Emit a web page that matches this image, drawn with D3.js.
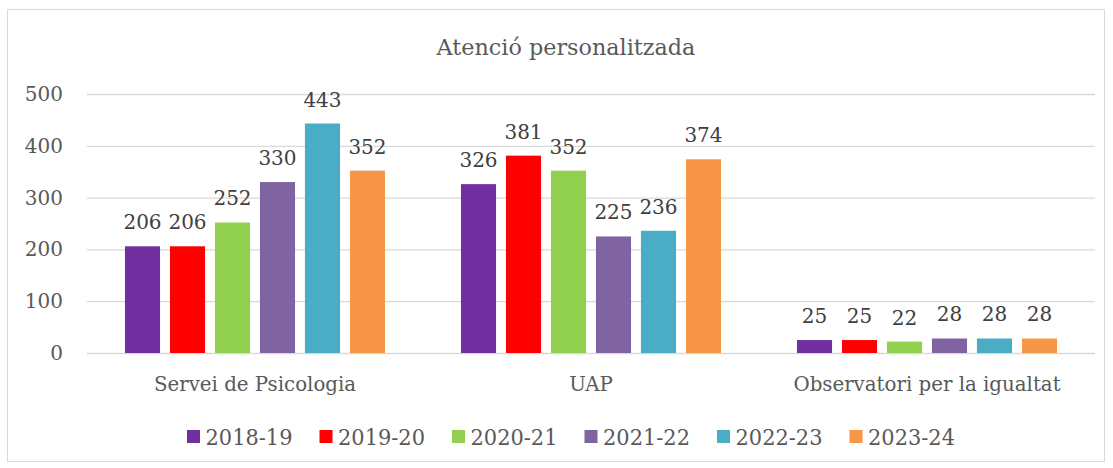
<!DOCTYPE html>
<html><head><meta charset="utf-8">
<script src="https://cdn.jsdelivr.net/npm/d3@7"></script>
<style>body{margin:0;background:#fff}</style>
</head><body>
<script>
const categories = ["Servei de Psicologia", "UAP", "Observatori per la igualtat"];
const seriesNames = ["2018-19", "2019-20", "2020-21", "2021-22", "2022-23", "2023-24"];
const s2018 = [206, 326, 25];
const s2019 = [206, 381, 25];
const s2020 = [252, 352, 22];
const s2021 = [330, 225, 28];
const s2022 = [443, 236, 28];
const s2023 = [352, 374, 28];
const yTicks = [0, 100, 200, 300, 400, 500];
const colors = ["#7030A0", "#FF0000", "#92D050", "#8064A2", "#4BACC6", "#F79646"];
const series = [s2018, s2019, s2020, s2021, s2022, s2023];

const W = 1113, H = 468;
const svg = d3.select("body").append("svg").attr("width", W).attr("height", H);
const serif = "'DejaVu Serif', serif";
svg.append("rect").attr("x", 7.5).attr("y", 9.5).attr("width", 1097).attr("height", 452)
  .attr("fill", "#fff").attr("stroke", "#d9d9d9").attr("stroke-width", 1);

const x0 = d3.scaleBand().domain(categories).range([87, 1095]).paddingInner(0.226).paddingOuter(0.113);
const x1 = d3.scaleBand().domain(seriesNames).range([0, x0.bandwidth()]).paddingInner(0.22);
const y = d3.scaleLinear().domain([0, 500]).range([353, 94]);

svg.append("text").attr("x", 566).attr("y", 55).attr("text-anchor", "middle")
  .attr("font-family", serif).attr("font-size", 22.3).attr("fill", "#595959").text("Atenció personalitzada");

const yAxis = svg.append("g").attr("transform", "translate(87,0)")
  .call(d3.axisLeft(y).tickValues(yTicks).tickSize(-1008).tickPadding(24));
yAxis.select(".domain").remove();
yAxis.selectAll(".tick line").attr("stroke", "#d9d9d9").attr("stroke-width", 1.3);
yAxis.selectAll(".tick text").attr("font-family", serif).attr("font-size", 20).attr("fill", "#595959");

const xAxis = svg.append("g").attr("transform", "translate(0,353)")
  .call(d3.axisBottom(x0).tickSize(0).tickPadding(24));
xAxis.select(".domain").remove();
xAxis.selectAll(".tick text").attr("font-family", serif).attr("font-size", 19.8).attr("fill", "#595959");

const g = svg.append("g");
categories.forEach((c, ci) => {
  seriesNames.forEach((s, si) => {
    const v = series[si][ci];
    const bx = x0(c) + x1(s);
    g.append("rect").attr("x", bx).attr("y", y(v)).attr("width", x1.bandwidth())
      .attr("height", y(0) - y(v)).attr("fill", colors[si]);
    g.append("text").attr("x", bx + x1.bandwidth() / 2).attr("y", y(v) - 17)
      .attr("text-anchor", "middle").attr("font-family", serif).attr("font-size", 20)
      .attr("fill", "#404040").text(v);
  });
});

const leg = svg.append("g");
seriesNames.forEach((s, i) => {
  const lx = 187 + i * 132.5;
  leg.append("rect").attr("x", lx).attr("y", 430).attr("width", 13).attr("height", 13).attr("fill", colors[i]);
  leg.append("text").attr("x", lx + 18.5).attr("y", 445)
    .attr("font-family", serif).attr("font-size", 22)
    .attr("textLength", 87).attr("lengthAdjust", "spacingAndGlyphs")
    .attr("fill", "#595959").text(s);
});
</script>
</body></html>
